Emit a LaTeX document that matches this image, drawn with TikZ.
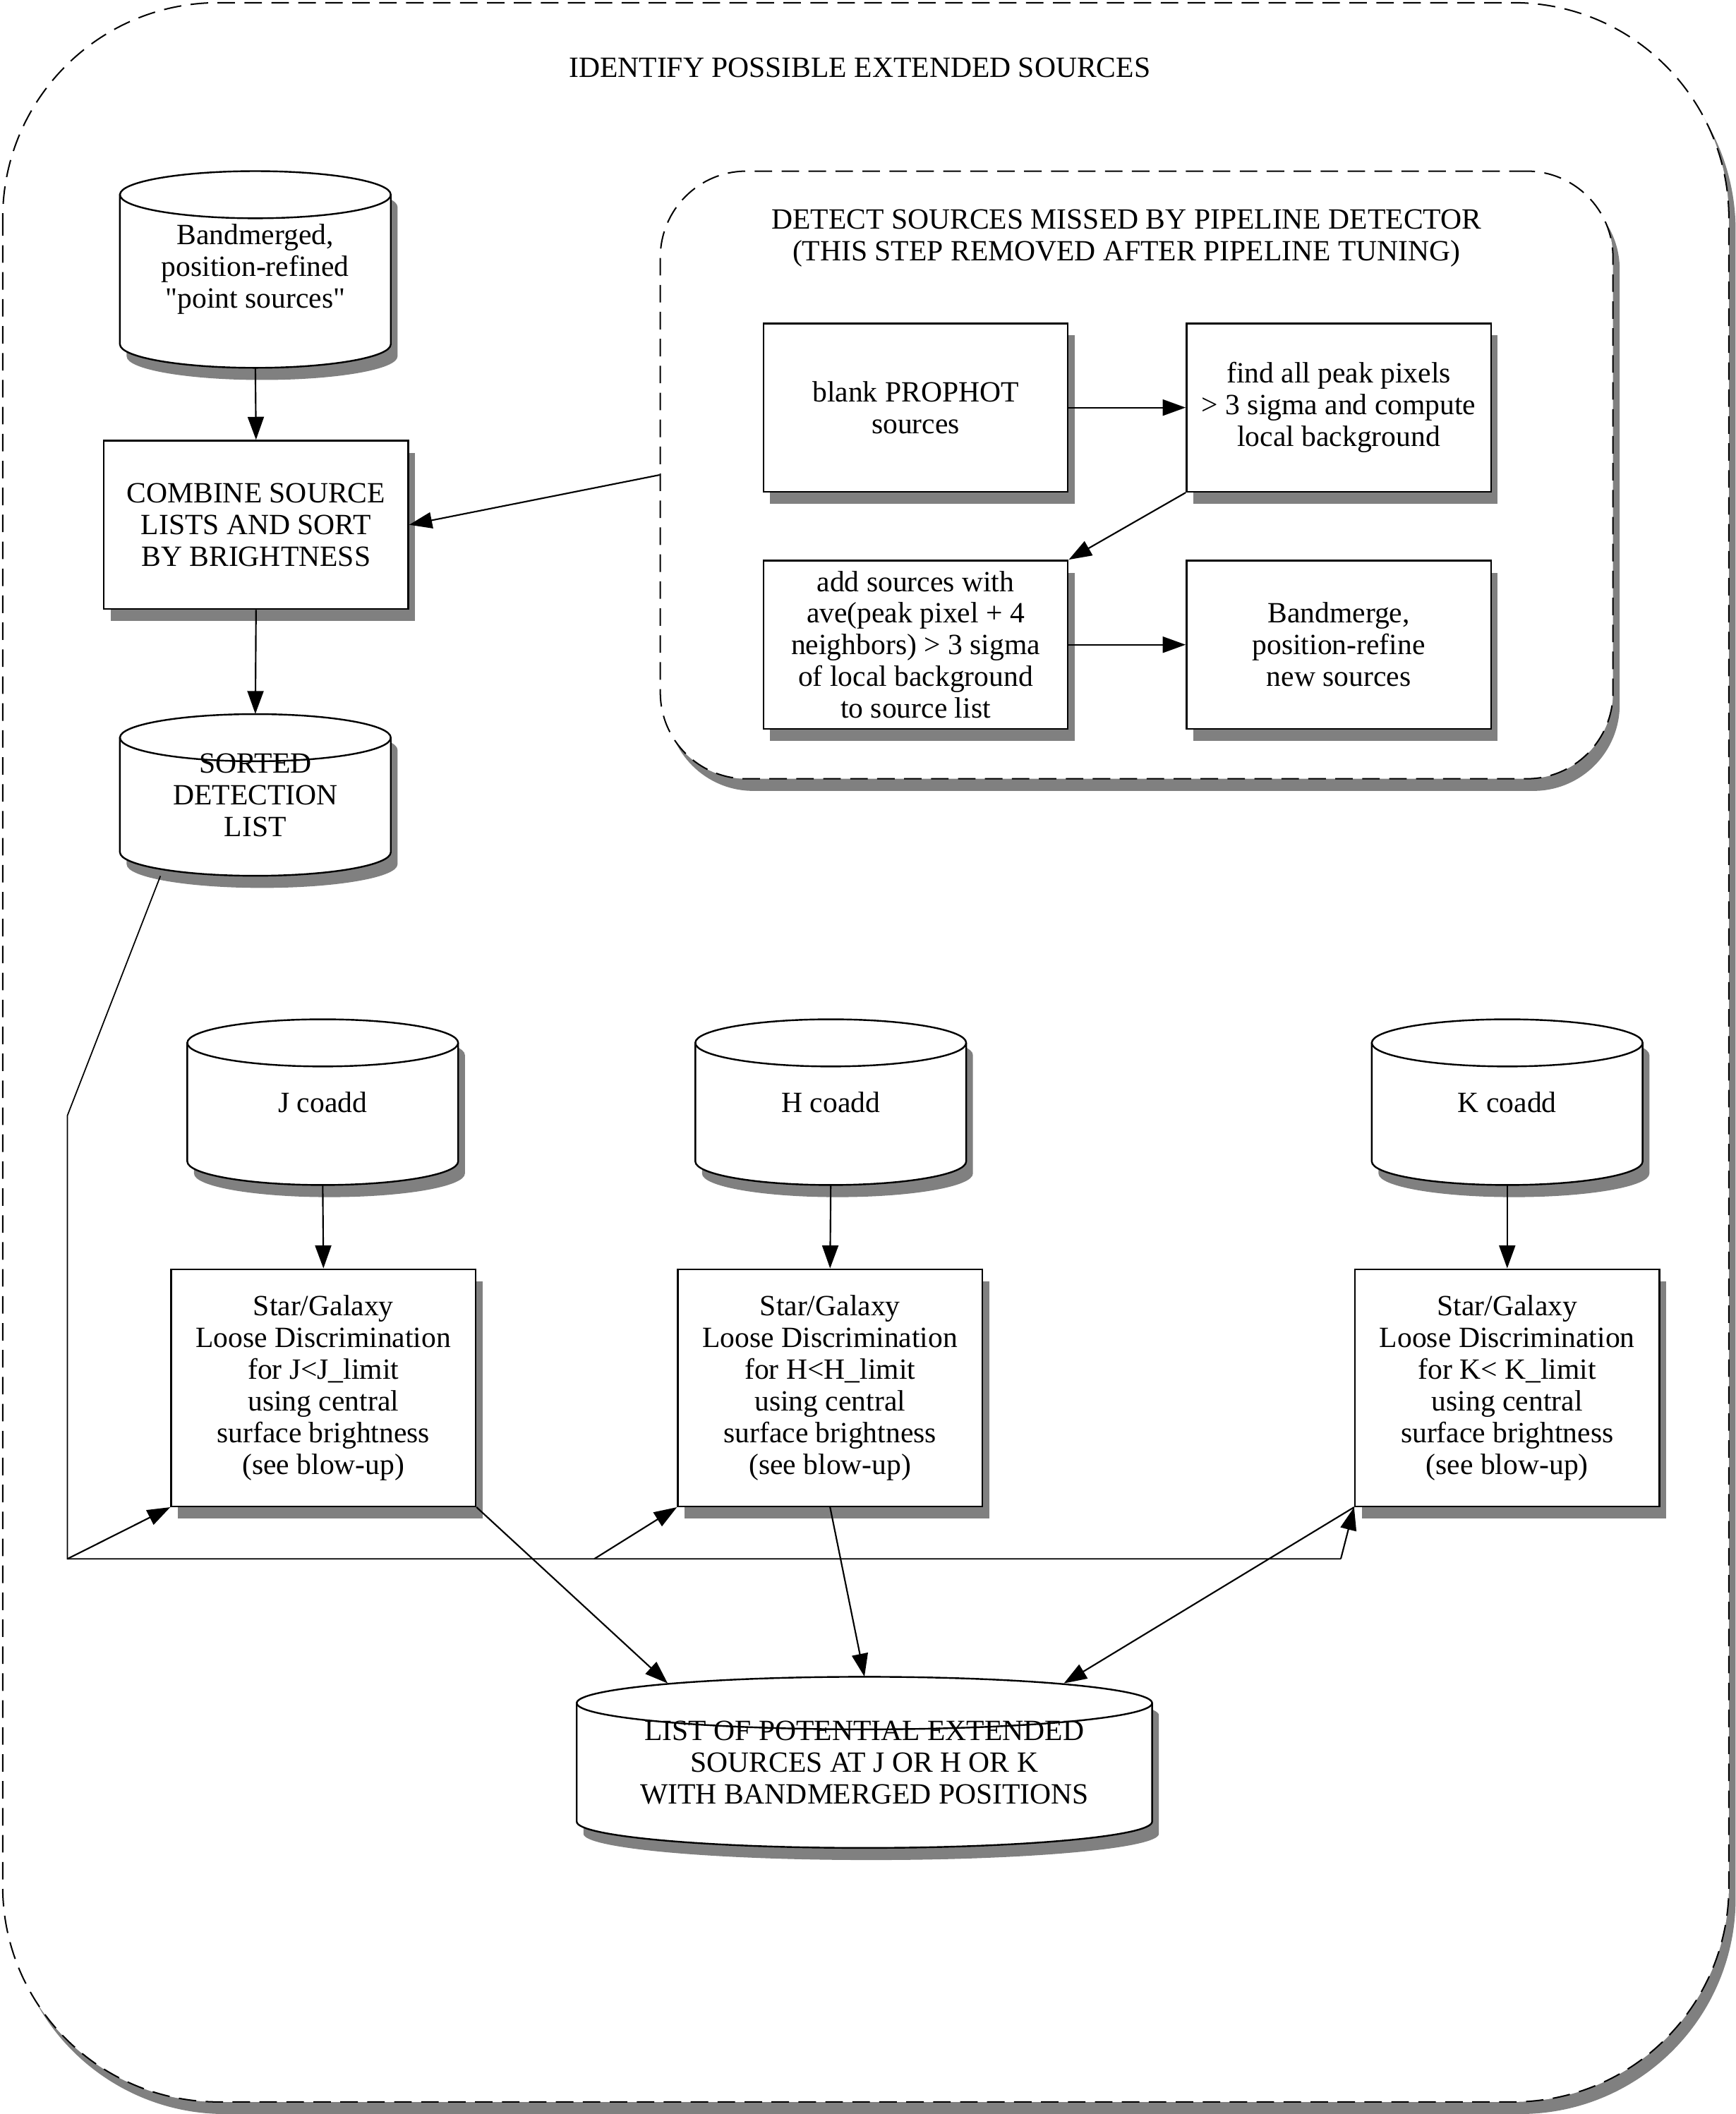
\documentclass[tikz,border=0pt]{standalone}
\usepackage{fontspec}
\setmainfont{Liberation Serif}
\usetikzlibrary{arrows.meta,calc,shadows,positioning}

% database cylinder: name, x, y, half width, half height, cap radius, text
\newcommand{\dbcyl}[7]{%
\fill[black!50,shift={(5,9)}] (#2-#4,#3-#5+#6) -- (#2-#4,#3+#5-#6) arc[start angle=180,end angle=0,x radius=#4,y radius=#6] -- (#2+#4,#3-#5+#6) arc[start angle=0,end angle=-180,x radius=#4,y radius=#6] -- cycle;
\filldraw[fill=white,line width=1.8pt] (#2-#4,#3-#5+#6) -- (#2-#4,#3+#5-#6) arc[start angle=180,end angle=0,x radius=#4,y radius=#6] -- (#2+#4,#3-#5+#6) arc[start angle=0,end angle=-180,x radius=#4,y radius=#6] -- cycle;
\draw[line width=1.8pt] (#2-#4,#3-#5+#6) arc[start angle=180,end angle=0,x radius=#4,y radius=#6];
\node[align=center,inner sep=0pt,minimum width=2*#4*0.05cm,minimum height=2*#5*0.05cm] (#1) at (#2,#3) {#7};
}

\begin{document}
\begin{tikzpicture}[x=0.05cm,y=-0.05cm,
  font=\fontsize{31}{33.5}\selectfont,
  shadowed/.style={drop shadow={shadow xshift=0.25cm,shadow yshift=-0.45cm,fill=black!50,opacity=1}},
  box/.style={draw,fill=white,line width=1.8pt,align=center,inner sep=0pt,minimum width=11.3cm,minimum height=6.25cm,shadowed},
  sgbox/.style={box,minimum height=8.8cm},
  group/.style={draw,fill=white,line width=1.5pt,dash pattern=on 0.65cm off 0.35cm,shadowed},
  arrow/.style={line width=1.6pt,-{Triangle[length=0.85cm,width=0.6cm]}},
  line/.style={line width=1.3pt}]
\useasboundingbox (0,0) rectangle (1288,1569);

% outer frame
\path[group,rounded corners=8cm] (2,2) rectangle (1283,1560);
\node (title) at (638,50) {IDENTIFY POSSIBLE EXTENDED SOURCES};

% detection of missed sources
\node[group,rounded corners=3.2cm,minimum width=35.35cm,minimum height=22.55cm] (detect) at (843.5,352.5) {};
\node[align=center] (detecttitle) at (836,177) {DETECT SOURCES MISSED BY PIPELINE DETECTOR\\(THIS STEP REMOVED AFTER PIPELINE TUNING)};
\node[box] (blank) at (679.5,302.5) {blank PROPHOT\\sources};
\node[box] (peak) at (993.5,302.5) {find all peak pixels\\> 3 sigma and compute\\local background};
\node[box] (addsrc) at (679.5,478.5) {add sources with\\ave(peak pixel + 4\\neighbors) > 3 sigma\\of local background\\to source list};
\node[box] (bmerge) at (993.5,478.5) {Bandmerge,\\position-refine\\new sources};
\draw[arrow] (blank.east) -- (peak.west);
\draw[arrow] (peak.south west) -- (addsrc.north east);
\draw[arrow] (addsrc.east) -- (bmerge.west);

% left column
\dbcyl{points}{189.5}{200}{100.5}{73}{17.5}{Bandmerged,\\position-refined\\\textquotedbl point sources\textquotedbl}
\node[box] (comb) at (190,389.5) {COMBINE SOURCE\\LISTS AND SORT\\BY BRIGHTNESS};
\dbcyl{sorted}{189.5}{590}{100.5}{60}{17.5}{SORTED\\DETECTION\\LIST}
\draw[arrow] (points.south) -- (comb.north);
\draw[arrow] (detect.west) -- (comb.east);
\draw[arrow] (comb.south) -- (sorted.north);

% coadds
\dbcyl{jco}{239.5}{818}{100.5}{61.5}{17.5}{J coadd}
\dbcyl{hco}{616.5}{818}{100.5}{61.5}{17.5}{H coadd}
\dbcyl{kco}{1118.5}{818}{100.5}{61.5}{17.5}{K coadd}
\node[sgbox] (jbox) at (240,1030) {Star/Galaxy\\Loose Discrimination\\for J<J\_limit\\using central\\surface brightness\\(see blow-up)};
\node[sgbox] (hbox) at (616,1030) {Star/Galaxy\\Loose Discrimination\\for H<H\_limit\\using central\\surface brightness\\(see blow-up)};
\node[sgbox] (kbox) at (1118.5,1030) {Star/Galaxy\\Loose Discrimination\\for K< K\_limit\\using central\\surface brightness\\(see blow-up)};
\draw[arrow] (jco.south) -- (jbox.north);
\draw[arrow] (hco.south) -- (hbox.north);
\draw[arrow] (kco.south) -- (kbox.north);

% feed of the sorted list
\coordinate (bend) at (50,828);
\coordinate (split) at (50,1157);
\coordinate (hsplit) at (441,1157);
\coordinate (kend) at (995,1157);
\draw[line] ($(sorted.south)!0.7!(sorted.south west)$) -- (bend) -- (split) -- (kend);
\draw[arrow] (split) -- (jbox.south west);
\draw[arrow] (hsplit) -- (hbox.south west);
\draw[arrow] (kend) -- (kbox.south west);

% result list
\dbcyl{list}{641.5}{1308}{213.5}{63.5}{19.5}{LIST OF POTENTIAL EXTENDED\\SOURCES AT J OR H OR K\\WITH BANDMERGED POSITIONS}
\draw[arrow] (jbox.south east) -- ($(list.north)+(-146,5)$);
\draw[arrow] (hbox.south) -- (list.north);
\draw[arrow] (kbox.south west) -- ($(list.north)+(148,5)$);
\end{tikzpicture}
\end{document}
